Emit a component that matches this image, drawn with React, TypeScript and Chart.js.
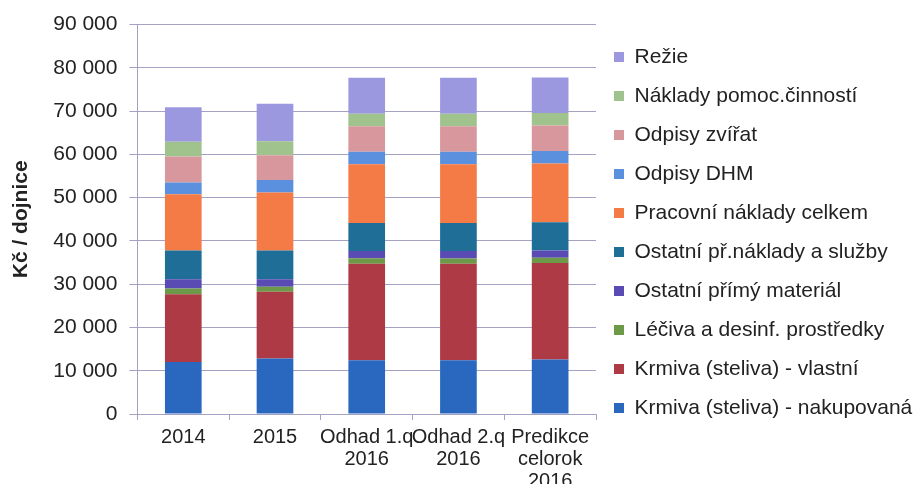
import React, { useEffect, useRef } from 'react';
import { Chart, registerables } from 'chart.js';

Chart.register(...registerables);

const categories: string[][] = [
  ['2014'],
  ['2015'],
  ['Odhad 1.q', '2016'],
  ['Odhad 2.q', '2016'],
  ['Predikce', 'celorok', '2016'],
];

const seriesNames = [
  'Krmiva (steliva) - nakupovaná',
  'Krmiva (steliva) - vlastní',
  'Léčiva a desinf. prostředky',
  'Ostatní přímý materiál',
  'Ostatní př.náklady a služby',
  'Pracovní náklady celkem',
  'Odpisy DHM',
  'Odpisy zvířat',
  'Náklady pomoc.činností',
  'Režie',
];

const krmivaNakupovana = [12000, 12800, 12400, 12400, 12600];
const krmivaVlastni = [15700, 15440, 22300, 22300, 22300];
const leciva = [1300, 1160, 1270, 1250, 1200];
const primyMaterial = [2150, 1750, 1680, 1700, 1700];
const ostatniSluzby = [6650, 6650, 6500, 6500, 6500];
const pracovniNaklady = [13000, 13400, 13550, 13550, 13600];
const odpisyDHM = [2700, 2900, 2900, 2900, 2870];
const odpisyZvirat = [6000, 5700, 5900, 5900, 5930];
const pomocCinnosti = [3400, 3250, 2900, 2900, 2850];
const rezie = [8000, 8650, 8300, 8300, 8250];

const yTicks = [0, 10000, 20000, 30000, 40000, 50000, 60000, 70000, 80000, 90000];

const seriesValues = [
  krmivaNakupovana,
  krmivaVlastni,
  leciva,
  primyMaterial,
  ostatniSluzby,
  pracovniNaklady,
  odpisyDHM,
  odpisyZvirat,
  pomocCinnosti,
  rezie,
];

const seriesColors = [
  '#2a68bf',
  '#ad3a44',
  '#6c9a49',
  '#5a4ab4',
  '#1f6e98',
  '#f47b46',
  '#5b90de',
  '#d8979c',
  '#a0c38d',
  '#9c98e0',
];

const gridColor = '#a4a2c3';
const textColor = '#222222';
const fontFamily = '"Liberation Sans", Arial, sans-serif';

function formatThousands(v: number): string {
  const s = String(Math.round(v));
  return s.replace(/\B(?=(\d{3})+(?!\d))/g, ' ');
}

export default function App() {
  const canvasRef = useRef<HTMLCanvasElement | null>(null);

  useEffect(() => {
    if (!canvasRef.current) return;
    const chart = new Chart(canvasRef.current, {
      type: 'bar',
      data: {
        labels: categories,
        datasets: seriesNames.map((name, i) => ({
          label: name,
          data: seriesValues[i],
          backgroundColor: seriesColors[i],
          borderWidth: 0,
          categoryPercentage: 0.8,
          barPercentage: 0.5,
        })),
      },
      options: {
        responsive: false,
        animation: false,
        devicePixelRatio: 1,
        font: { family: fontFamily },
        layout: { padding: { top: 22, right: 0, left: 0, bottom: 0 } },
        plugins: {
          tooltip: { enabled: false },
          legend: {
            position: 'right',
            align: 'start',
            reverse: true,
            maxWidth: 325,
            title: {
              display: true,
              text: ' ',
              font: { size: 5, lineHeight: 1.3, family: fontFamily },
              padding: 0,
            },
            labels: {
              boxWidth: 10,
              boxHeight: 10,
              padding: 18,
              color: textColor,
              font: { size: 21, family: fontFamily },
            },
          },
        },
        scales: {
          x: {
            stacked: true,
            grid: {
              display: true,
              drawOnChartArea: false,
              drawTicks: true,
              tickLength: 6,
              color: gridColor,
              offset: true,
            },
            border: { display: true, color: gridColor },
            ticks: {
              color: textColor,
              padding: 6,
              maxRotation: 0,
              autoSkip: false,
              font: { size: 20, lineHeight: 1.1, family: fontFamily },
            },
          },
          y: {
            stacked: true,
            min: 0,
            max: 90000,
            afterBuildTicks: (axis: any) => {
              axis.ticks = yTicks.map((v) => ({ value: v }));
            },
            grid: {
              display: true,
              drawOnChartArea: true,
              drawTicks: true,
              tickLength: 8,
              color: gridColor,
            },
            border: { display: true, color: gridColor },
            ticks: {
              color: textColor,
              padding: 12,
              font: { size: 21, family: fontFamily },
              callback: (v: any) => formatThousands(Number(v)),
            },
            title: {
              display: true,
              text: 'Kč / dojnice',
              color: textColor,
              font: { size: 21, weight: 'bold', family: fontFamily },
              padding: { top: 9, bottom: 7 },
            },
          },
        },
      },
    });
    return () => chart.destroy();
  }, []);

  return (
    <div
      style={{
        position: 'fixed',
        left: 0,
        top: 0,
        width: 921,
        height: 484,
        overflow: 'hidden',
        background: '#ffffff',
      }}
    >
      <canvas ref={canvasRef} width={921} height={498} style={{ display: 'block', width: 921, height: 498 }} />
    </div>
  );
}
